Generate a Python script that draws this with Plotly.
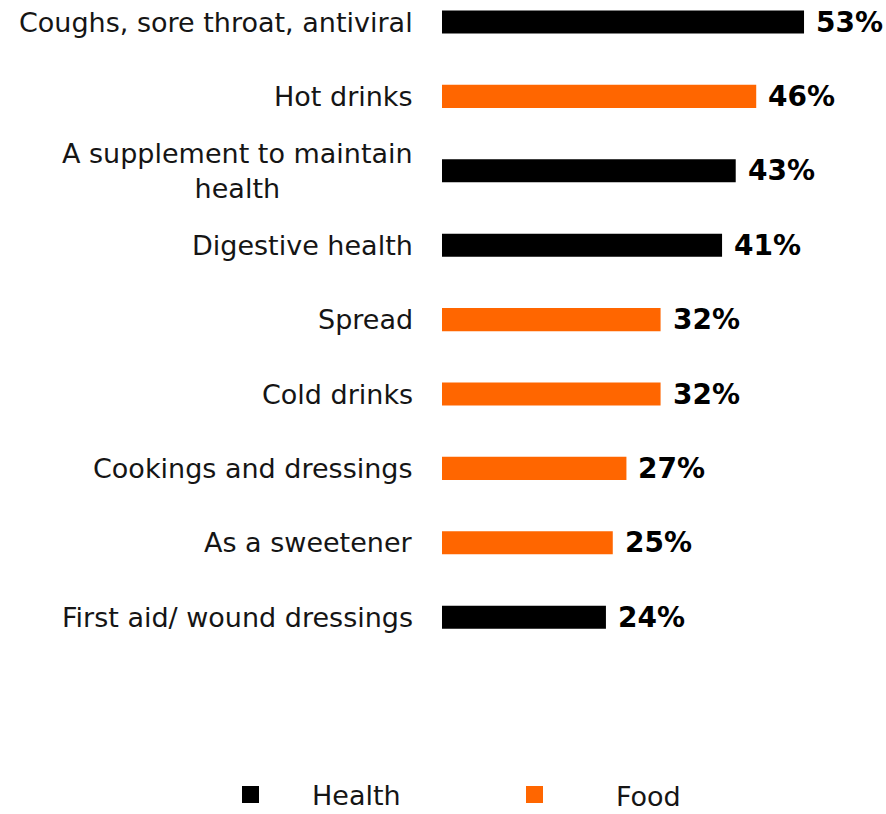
import plotly.graph_objects as go

categories = [
    "Coughs, sore throat, antiviral",
    "Hot drinks",
    "A supplement to maintain<br>health",
    "Digestive health",
    "Spread",
    "Cold drinks",
    "Cookings and dressings",
    "As a sweetener",
    "First aid/ wound dressings",
]
values = [53, 46, 43, 41, 32, 32, 27, 25, 24]
groups = ["Health", "Food", "Health", "Health", "Food", "Food", "Food", "Food", "Health"]
group_colors = {"Health": "#000000", "Food": "#FF6600"}
legend_items = ["Health", "Food"]

FONT = "DejaVu Sans"
W, H = 886, 814
ML, MT, MB = 442, 0, 114
plot_h = H - MT - MB
row_px = 74.4
top_val = -22 / row_px
bot_val = top_val + plot_h / row_px

fig = go.Figure()
fig.add_trace(go.Bar(
    y=categories,
    x=values,
    orientation="h",
    width=0.31,
    marker=dict(color=[group_colors[g] for g in groups], line=dict(width=0)),
    showlegend=False,
    hoverinfo="skip",
))

annotations = []
for c, v in zip(categories, values):
    annotations.append(dict(
        xref="paper", yref="y", x=(415 - ML) / (W - ML), y=c,
        text=c, showarrow=False, xanchor="right", yanchor="middle", align="center",
        font=dict(family=FONT, size=27, color="#151515"),
    ))
    annotations.append(dict(
        xref="x", yref="y", x=v, y=c, xshift=10,
        text=f"{v}%", showarrow=False, xanchor="left", yanchor="middle",
        font=dict(family=FONT, size=28, color="#000000", weight="bold"),
    ))

shapes = []
legend_sq = {"Health": 242, "Food": 526}
legend_tx = {"Health": 310, "Food": 614}
legend_ty = {"Health": 795, "Food": 796}
def px_x(x):
    return (x - ML) / (W - ML)
def px_y(y):
    return (MT + plot_h - y) / plot_h
for g in legend_items:
    x0 = legend_sq[g]
    shapes.append(dict(type="rect", xref="paper", yref="paper",
                       x0=px_x(x0), x1=px_x(x0 + 17), y0=px_y(786), y1=px_y(803),
                       fillcolor=group_colors[g], line=dict(width=0)))
    annotations.append(dict(xref="paper", yref="paper", x=px_x(legend_tx[g]), y=px_y(legend_ty[g]),
                            text=g, showarrow=False, xanchor="left", yanchor="middle",
                            font=dict(family=FONT, size=27, color="#151515")))

fig.update_layout(
    width=W, height=H,
    margin=dict(l=ML, r=0, t=MT, b=MB),
    paper_bgcolor="white", plot_bgcolor="white",
    xaxis=dict(range=[0, 65], visible=False, fixedrange=True),
    yaxis=dict(type="category", range=[bot_val, top_val], showticklabels=False,
               showgrid=False, zeroline=False, showline=False, ticks=""),
    annotations=annotations,
    shapes=shapes,
)
fig.write_html("out.html")
